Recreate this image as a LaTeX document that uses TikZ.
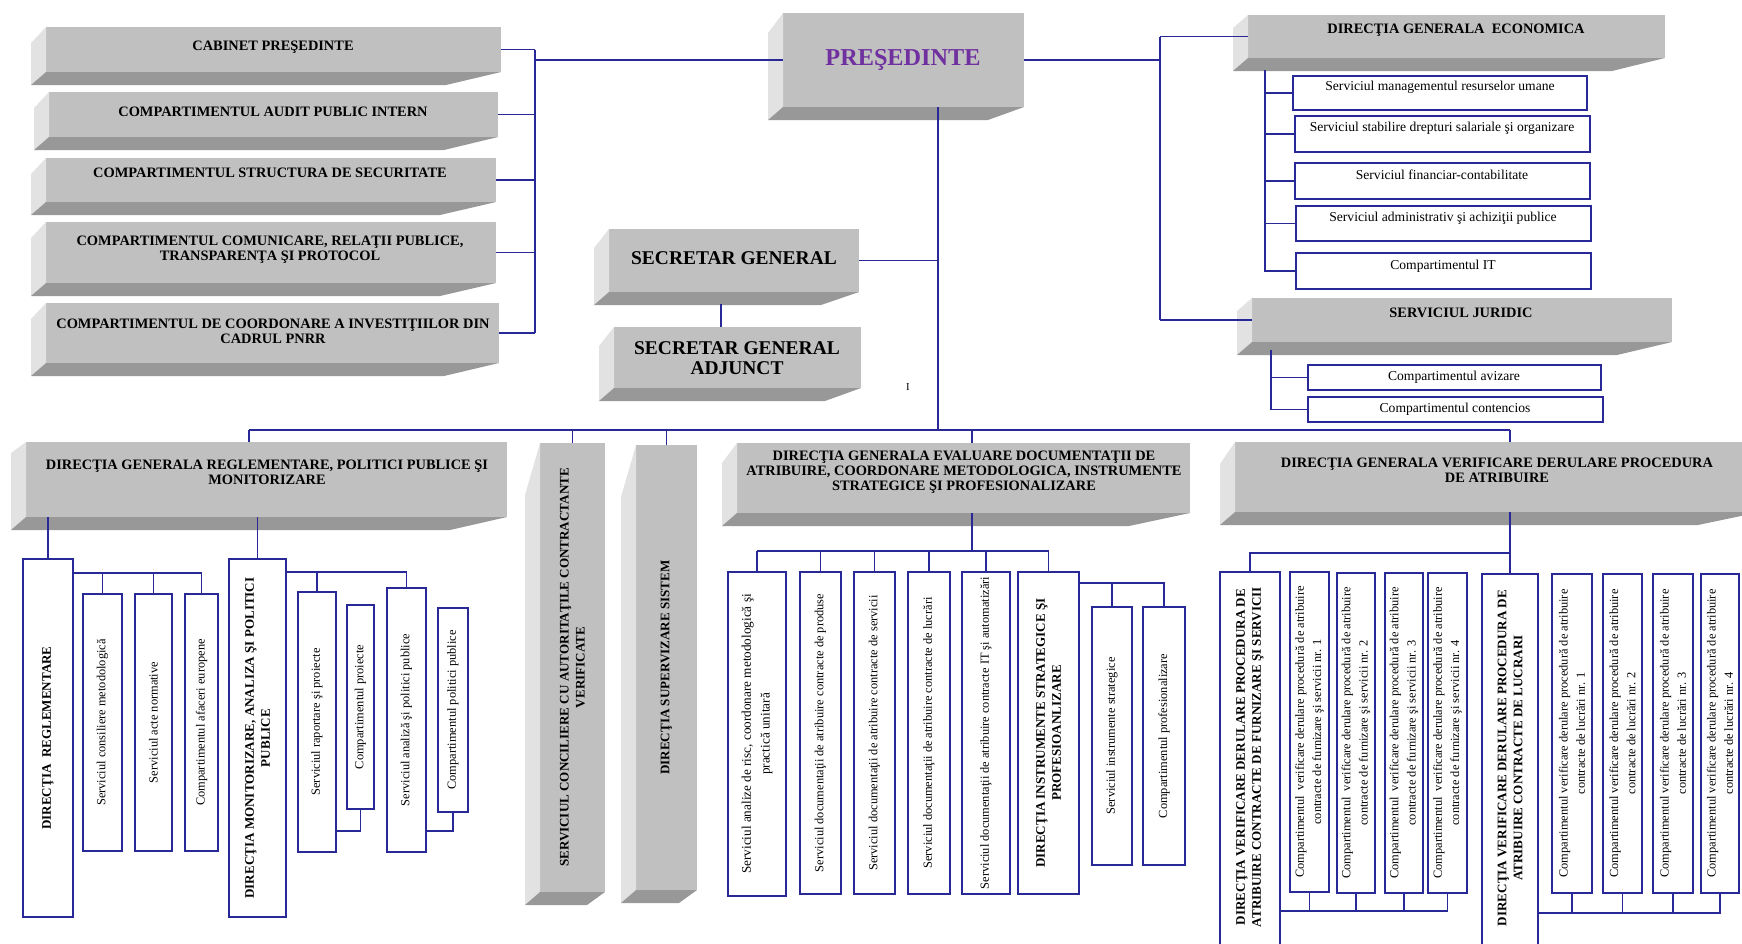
\documentclass[tikz,border=0pt]{standalone}
\usepackage{fontspec}
\setmainfont{Liberation Serif}
\usetikzlibrary{fit,calc}

\definecolor{slabfront}{RGB}{192,192,192}
\definecolor{slabside}{RGB}{226,226,226}
\definecolor{slabshade}{RGB}{152,152,152}
\definecolor{linkblue}{RGB}{40,40,150}
\definecolor{presviolet}{RGB}{112,48,160}

% side and bottom faces of a grey slab: node, top slant, right inset
\newcommand{\slabfaces}[3]{%
  \fill[slabside] (#1.north west) -- ++(-15,#2) -- ($(#1.south west)+(-15,13)$) -- (#1.south west) -- cycle;
  \fill[slabshade] (#1.south west) -- (#1.south east) -- ($(#1.south east)+(-#3,13)$) -- ($(#1.south west)+(-15,13)$) -- cycle;
}

\tikzset{
slab/.style={fill=slabfront, inner sep=0pt, outer sep=0pt},
unit/.style={draw=linkblue, line width=1.3pt, fill=white, inner sep=0pt, outer sep=0pt},
link/.style={draw=linkblue, line width=1.2pt},
hdr/.style={font=\fontsize{10.8}{11.4}\selectfont\bfseries, align=center, inner sep=0pt},
sghdr/.style={font=\fontsize{14.6}{15}\selectfont\bfseries, align=center, inner sep=0pt},
vhdr/.style={font=\fontsize{9.8}{12}\selectfont\bfseries, align=center, inner sep=0pt, rotate=90},
utxt/.style={font=\fontsize{10.2}{12}\selectfont, inner sep=0pt},
vtxt/.style={font=\fontsize{9.3}{13}\selectfont, align=center, inner sep=0pt, rotate=90}}

\begin{document}
\begin{tikzpicture}[x=0.75pt,y=0.75pt,yscale=-1,xscale=1]
\useasboundingbox (0,0) rectangle (1742,943);

%Slabs: left column
\node[slab, fit={(46,27) (501,72)}] (cab) {};
\node[slab, fit={(49,92) (498,137)}] (aud) {};
\node[slab, fit={(46,158) (496,202)}] (sec) {};
\node[slab, fit={(46,222) (496,283)}] (com) {};
\node[slab, fit={(46,303) (499,363)}] (pnrr) {};
\slabfaces{cab}{16}{55}
\slabfaces{aud}{16}{54}
\slabfaces{sec}{16}{56}
\slabfaces{com}{16}{56}
\slabfaces{pnrr}{16}{55}

%Slabs: president and secretaries
\node[slab, fit={(783,13) (1024,107)}] (pres) {};
\node[slab, fit={(609,229) (859,292)}] (sg) {};
\node[slab, fit={(614,327) (861,388)}] (adj) {};
\slabfaces{pres}{20}{36}
\slabfaces{sg}{19}{38}
\slabfaces{adj}{19}{36}

%Slabs: right column
\node[slab, fit={(1248,15) (1665,58)}] (econ) {};
\node[slab, fit={(1252,298) (1672,342)}] (jur) {};
\slabfaces{econ}{13}{53}
\slabfaces{jur}{13}{55}

%Slabs: lower row
\node[slab, fit={(26,442) (507,517)}] (dgr) {};
\node[slab, fit={(540,443) (605,892)}] (sc) {};
\node[slab, fit={(636,445) (697,890)}] (dss) {};
\node[slab, fit={(737,443) (1190,513)}] (dge) {};
\node[slab, fit={(1235,442) (1760,512)}] (dgv) {};
\slabfaces{dgr}{11}{57}
\slabfaces{sc}{52}{18}
\slabfaces{dss}{52}{18}
\slabfaces{dge}{20}{61}
\slabfaces{dgv}{22}{62}

%Units: economic and juridic
\node[unit, fit={(1293,76) (1587,110)}] (e1) {};
\node[unit, fit={(1295,116) (1590,152)}] (e2) {};
\node[unit, fit={(1295,163) (1590,199)}] (e3) {};
\node[unit, fit={(1296,206) (1591,241)}] (e4) {};
\node[unit, fit={(1296,253) (1591,289)}] (e5) {};
\node[unit, fit={(1308,365) (1601,390)}] (j1) {};
\node[unit, fit={(1308,397) (1603,422)}] (j2) {};

%Units: reglementare
\node[unit, fit={(23,559) (73,917)}] (dreg) {};
\node[unit, fit={(83,594) (122,851)}] (rg1) {};
\node[unit, fit={(135,594) (172,851)}] (rg2) {};
\node[unit, fit={(185,594) (218,851)}] (rg3) {};
\node[unit, fit={(229,559) (286,917)}] (dmon) {};
\node[unit, fit={(298,592) (336,852)}] (ms1) {};
\node[unit, fit={(347,605) (374,809)}] (ms2) {};
\node[unit, fit={(387,588) (426,852)}] (ms3) {};
\node[unit, fit={(438,608) (468,812)}] (ms4) {};

%Units: evaluare
\node[unit, fit={(728,572) (786,896)}] (ev1) {};
\node[unit, fit={(800,572) (841,894)}] (ev2) {};
\node[unit, fit={(854,572) (895,894)}] (ev3) {};
\node[unit, fit={(908,572) (950,894)}] (ev4) {};
\node[unit, fit={(962,572) (1010,894)}] (ev5) {};
\node[unit, fit={(1018,572) (1079,894)}] (ev6) {};
\node[unit, fit={(1092,607) (1132,865)}] (is1) {};
\node[unit, fit={(1143,607) (1185,865)}] (is2) {};

%Units: verificare
\node[unit, fit={(1220,572) (1280,950)}] (df) {};
\node[unit, fit={(1290,572) (1329,892)}] (f1) {};
\node[unit, fit={(1337,573) (1375,893)}] (f2) {};
\node[unit, fit={(1385,573) (1423,893)}] (f3) {};
\node[unit, fit={(1428,573) (1467,893)}] (f4) {};
\node[unit, fit={(1482,574) (1538,950)}] (dl) {};
\node[unit, fit={(1552,574) (1592,893)}] (l1) {};
\node[unit, fit={(1603,574) (1642,893)}] (l2) {};
\node[unit, fit={(1653,574) (1693,893)}] (l3) {};
\node[unit, fit={(1701,574) (1739,893)}] (l4) {};

%Connectors: top
\coordinate (lbus) at (535,60);
\coordinate (rbus) at (1160,60);
\coordinate (trunk) at (938,430);
\coordinate (sgj) at (721,304);
\foreach \b in {cab,aud,sec,com,pnrr} \draw[link] (\b) -- (\b -| lbus);
\draw[link] (cab -| lbus) -- (pnrr -| lbus);
\draw[link] (lbus) -- (pres);
\draw[link] (pres) -- (rbus);
\draw[link] (econ -| rbus) -- (jur -| rbus);
\draw[link] (econ -| rbus) -- (econ);
\draw[link] (jur -| rbus) -- (jur);
\draw[link] (pres.south -| trunk) -- (trunk);
\draw[link] (sg) -- (sg -| trunk);
\draw[link] (sgj) -- (sgj |- adj.north);

%Connectors: economic and juridic
\coordinate (ebus) at (1265,70);
\coordinate (jbus) at (1271,350);
\draw[link] (ebus) |- (e5);
\foreach \u in {e1,e2,e3,e4} \draw[link] (\u -| ebus) -- (\u);
\draw[link] (jbus) |- (j2);
\draw[link] (j1 -| jbus) -- (j1);

%Connectors: main bus
\coordinate (busL) at (249,430);
\coordinate (busR) at (1510,430);
\coordinate (evbus) at (972,551);
\draw[link] (busL) -- (busR);
\draw[link] (busL) -- (busL |- dgr.north);
\draw[link] (sc.north) -- (sc.north |- busL);
\draw[link] (dss.north) -- (dss.north |- busL);
\draw[link] (dge.north -| evbus) -- (evbus |- busL);
\draw[link] (busR) -- (busR |- dgv.north);

%Connectors: reglementare
\coordinate (rgbus) at ($(dreg.north east)+(0,14)$);
\coordinate (msbus) at ($(dmon.north east)+(0,13)$);
\draw[link] (dreg.north) -- (dreg.north |- dgr.south);
\draw[link] (dmon.north) -- (dmon.north |- dgr.south);
\draw[link] (rgbus) -| (rg3.north);
\foreach \u in {rg1,rg2} \draw[link] (\u.north) -- (\u.north |- rgbus);
\draw[link] (msbus) -| (ms3.north);
\draw[link] (ms1.north) -- (ms1.north |- msbus);
\draw[link] (ms2.south) |- ($(ms1.south east)+(0,-21)$);
\draw[link] (ms4.south) |- ($(ms3.south east)+(0,-21)$);

%Connectors: evaluare
\coordinate (isbus) at ($(ev6.north east)+(0,11)$);
\draw[link] (evbus |- dge.south) -- (evbus);
\draw[link] (ev1.north |- evbus) -- (ev6.north |- evbus);
\foreach \u in {ev1,ev2,ev3,ev4,ev5,ev6} \draw[link] (\u.north) -- (\u.north |- evbus);
\draw[link] (isbus) -| (is2.north);
\draw[link] (is1.north) -- (is1.north |- isbus);

%Connectors: verificare
\coordinate (vbus) at (1510,553);
\coordinate (fbus) at ($(df.east |- f1.south)+(0,19)$);
\coordinate (lkbus) at ($(dl.east |- l1.south)+(0,20)$);
\draw[link] (dl.north) -- (dl.north |- dgv.south);
\draw[link] (df.north) |- (vbus);
\draw[link] (fbus) -| (f4.south);
\foreach \u in {f1,f2,f3} \draw[link] (\u.south) -- (\u.south |- fbus);
\draw[link] (lkbus) -| (l4.south);
\foreach \u in {l1,l2,l3} \draw[link] (\u.south) -- (\u.south |- lkbus);

% Text Node
\node[hdr] (cab-t) at (273,47) {CABINET PREŞEDINTE};
\node[hdr] (aud-t) at (273,112) {COMPARTIMENTUL AUDIT PUBLIC INTERN};
\node[hdr] (sec-t) at (270,173) {COMPARTIMENTUL STRUCTURA DE SECURITATE};
\node[hdr] (com-t) at (270,250) {COMPARTIMENTUL COMUNICARE, RELAŢII PUBLICE,\\TRANSPARENŢA ŞI PROTOCOL};
\node[hdr] (pnrr-t) at (273,331) {COMPARTIMENTUL DE COORDONARE A INVESTIŢIILOR DIN\\CADRUL PNRR};
\node[hdr, font=\fontsize{18.2}{19}\selectfont\bfseries, text=presviolet] (pres-t) at (903,60) {PREŞEDINTE};
\node[sghdr] (sg-t) at (734,258) {SECRETAR GENERAL};
\node[sghdr] (adj-t) at (737,358) {SECRETAR GENERAL\\ADJUNCT};
\node[utxt, font=\fontsize{8}{9}\selectfont] (mark) at (908,387) {I};
\node[hdr] (econ-t) at (1456,30) {DIRECŢIA GENERALA\ \ ECONOMICA};
\node[hdr] (jur-t) at (1461,313) {SERVICIUL JURIDIC};
\node[hdr] (dgr-t) at (267,472) {DIRECŢIA GENERALA REGLEMENTARE, POLITICI PUBLICE ŞI\\MONITORIZARE};
\node[hdr] (dge-t) at (964,472) {DIRECŢIA GENERALA EVALUARE DOCUMENTAŢII DE\\ATRIBUIRE, COORDONARE METODOLOGICA, INSTRUMENTE\\STRATEGICE ŞI PROFESIONALIZARE};
\node[hdr] (dgv-t) at (1497,470) {DIRECŢIA GENERALA VERIFICARE DERULARE PROCEDURA\\DE ATRIBUIRE};

% Text Node: economic and juridic units
\node[utxt] (e1-t) at (1440,87) {Serviciul managementul resurselor umane};
\node[utxt] (e2-t) at (1442,128) {Serviciul stabilire drepturi salariale şi organizare};
\node[utxt] (e3-t) at (1442,175) {Serviciul financiar-contabilitate};
\node[utxt] (e4-t) at (1443,218) {Serviciul administrativ şi achiziţii publice};
\node[utxt] (e5-t) at (1443,266) {Compartimentul IT};
\node[utxt] (j1-t) at (1454,377) {Compartimentul avizare};
\node[utxt] (j2-t) at (1455,409) {Compartimentul contencios};

% Text Node: vertical labels
\node[vhdr] (sc-t) at (sc.center) {SERVICIUL CONCILIERE CU AUTORITAŢILE CONTRACTANTE\\VERIFICATE};
\node[vhdr] (dss-t) at (dss.center) {DIRECŢIA SUPERVIZARE SISTEM};
\node[vhdr] (dreg-t) at (dreg.center) {DIRECŢIA\ \ REGLEMENTARE};
\node[vtxt] (rg1-t) at (rg1.center) {Serviciul consiliere metodologică};
\node[vtxt] (rg2-t) at (rg2.center) {Serviciul acte normative};
\node[vtxt] (rg3-t) at (rg3.center) {Compartimentul afaceri europene};
\node[vhdr] (dmon-t) at (dmon.center) {DIRECŢIA MONITORIZARE, ANALIZA ŞI POLITICI\\PUBLICE};
\node[vtxt] (ms1-t) at (ms1.center) {Serviciul raportare şi proiecte};
\node[vtxt] (ms2-t) at (ms2.center) {Compartimentul proiecte};
\node[vtxt] (ms3-t) at (ms3.center) {Serviciul analiză şi politici publice};
\node[vtxt] (ms4-t) at (ms4.center) {Compartimentul politici publice};
\node[vtxt, font=\fontsize{9.9}{14}\selectfont] (ev1-t) at (ev1.center) {Serviciul analize de risc, coordonare metodologică şi\\practică unitară};
\node[vtxt] (ev2-t) at (ev2.center) {Serviciul documentaţii de atribuire contracte de produse};
\node[vtxt] (ev3-t) at (ev3.center) {Serviciul documentaţii de atribuire contracte de servicii};
\node[vtxt] (ev4-t) at (ev4.center) {Serviciul documentaţii de atribuire contracte de lucrări};
\node[vtxt] (ev5-t) at (ev5.center) {Serviciul documentaţii de atribuire contracte IT şi automatizări};
\node[vhdr] (ev6-t) at (ev6.center) {DIRECŢIA INSTRUMENTE STRATEGICE ŞI\\PROFESIOANLIZARE};
\node[vtxt] (is1-t) at (is1.center) {Serviciul instrumente strategice};
\node[vtxt] (is2-t) at (is2.center) {Compartimentul profesionalizare};
\node[vhdr] (df-t) at (1250,757) {DIRECŢIA VERIFICARE DERULARE PROCEDURA DE\\ATRIBUIRE CONTRACTE DE FURNIZARE ŞI SERVICII};
\node[vhdr] (dl-t) at (1510,758) {DIRECŢIA VERIFICARE DERULARE PROCEDURA DE\\ATRIBUIRE CONTRACTE DE LUCRARI};
\foreach \n in {1,2,3,4} {
  \node[vtxt] (f\n-t) at (f\n.center) {Compartimentul\ \ verificare derulare procedură de atribuire\\contracte de furnizare şi servicii nr. \n};
  \node[vtxt] (l\n-t) at (l\n.center) {Compartimentul verificare derulare procedură de atribuire\\contracte de lucrări nr. \n};
}
\end{tikzpicture}
\end{document}
